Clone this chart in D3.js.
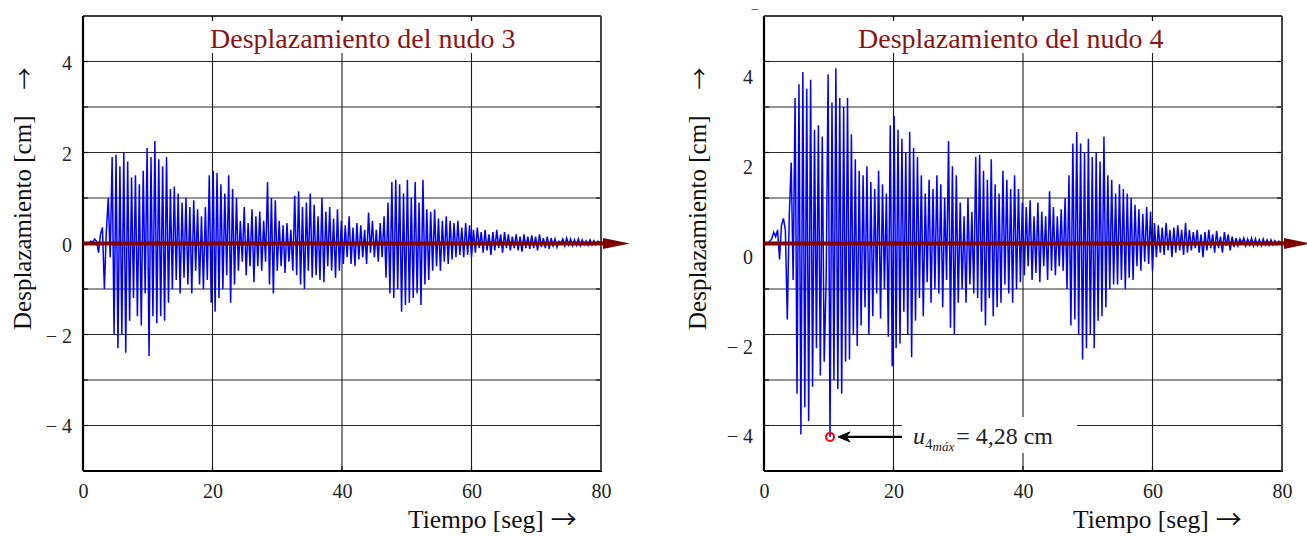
<!DOCTYPE html>
<html><head><meta charset="utf-8">
<script src="https://cdn.jsdelivr.net/npm/d3@7"></script>
<style>
body{margin:0;background:#fff;}
svg{display:block;font-family:"Liberation Serif","Times New Roman",serif;}
</style></head><body>
<svg id="c" width="1307" height="536"></svg>
<script>
// sampling step of the digitised records [s]
const dt = 0.3;
// displacement of node 3 [cm]
const nudo3 = [
 0, 0, 0.02, 0, 0.05, 0.03, 0.1, 0.05, -0.2, 0.2,
 0.35, -1.0, 0.25, 1.0, -0.3, 1.9, -2.0, 1.95, -2.3, 1.7,
 -2.0, 2.0, -2.4, 1.8, -1.7, 1.45, -1.2, 1.5, -1.6, 1.3,
 -1.8, 1.6, -1.1, 2.1, -2.47, 1.9, -1.6, 2.25, -1.75, 1.85,
 -1.6, 1.7, -1.7, 1.9, -1.3, 1.2, -1.0, 1.25, -0.8, 1.1,
 -1.1, 0.9, -0.75, 1.0, -0.9, 0.8, -1.1, 0.95, -0.6, 0.75,
 -0.9, 0.6, -1.0, 0.8, -0.8, 1.5, -1.3, 1.6, -1.5, 1.55,
 -1.2, 1.3, -1.0, 1.1, -0.7, 1.5, -1.3, 1.2, -0.9, 1.0,
 -0.6, 0.5, -0.4, 0.8, -0.7, 0.45, -0.5, 0.75, -0.85, 0.6,
 -0.5, 0.7, -0.6, 0.5, -0.4, 1.35, -0.9, 1.0, -1.1, 0.95,
 -0.6, 0.5, -0.5, 0.4, -0.65, 0.45, -0.4, 0.3, -0.6, 1.05,
 -0.7, 1.15, -0.9, 0.8, -1.0, 0.9, -0.6, 1.1, -0.75, 0.85,
 -0.7, 0.6, -0.8, 1.0, -0.85, 0.7, -0.5, 0.8, -0.6, 0.55,
 -0.75, 0.75, -0.6, 0.5, -0.45, 0.4, -0.3, 0.6, -0.45, 0.35,
 -0.5, 0.45, -0.35, 0.4, -0.3, 0.3, -0.45, 0.68, -0.2, 0.5,
 -0.3, 0.3, -0.4, 0.45, -0.3, 0.6, -0.75, 0.9, -1.1, 1.35,
 -1.2, 1.4, -1.0, 1.3, -1.5, 1.1, -1.35, 1.4, -1.3, 1.0,
 -1.2, 1.35, -1.1, 0.9, -1.35, 1.4, -0.9, 0.75, -0.8, 0.7,
 -0.6, 0.75, -0.5, 0.55, -0.6, 0.5, -0.4, 0.6, -0.45, 0.5,
 -0.35, 0.45, -0.3, 0.5, -0.25, 0.35, -0.3, 0.45, -0.25, 0.4,
 -0.3, 0.3, -0.2, 0.35, -0.1, 0.25, -0.2, 0.3, -0.15, 0.2,
 -0.25, 0.25, -0.15, 0.3, -0.1, 0.2, -0.2, 0.25, -0.1, 0.2,
 -0.15, 0.15, -0.1, 0.2, -0.15, 0.15, -0.18, 0.2, -0.1, 0.15,
 -0.12, 0.18, -0.1, 0.15, -0.15, 0.2, -0.08, 0.12, -0.1, 0.15,
 -0.12, 0.12, -0.05, 0.1, -0.08, 0.05, 0.0, 0.1, -0.05, 0.12,
 -0.03, 0.1, -0.05, 0.08, -0.04, 0.1, -0.05, 0.08, -0.03, 0.06,
 -0.04, 0.08, -0.03, 0.06, -0.02, 0.05, 0.03
];
// displacement of node 4 [cm]
const nudo4 = [
 0, 0.02, 0, 0.05, 0.1, 0.25, 0.15, 0.3, -0.35, 0.4,
 0.55, 0.3, -1.67, 0.6, 1.78, -0.8, 3.2, -3.3, 3.5, -4.2,
 3.77, -3.6, 3.4, -3.9, 3.6, -3.15, 2.5, -2.3, 2.6, -2.9,
 2.35, -2.6, -0.8, 3.72, -4.25, 3.1, -3.0, 3.85, -3.2, 3.2,
 -3.3, 3.0, -2.6, 3.2, -2.55, 2.4, -2.0, 1.85, -2.25, 1.6,
 -1.8, 1.5, -1.4, 1.7, -2.0, 1.35, -1.6, 1.2, -1.1, 1.6,
 -1.65, 1.3, -1.0, 1.1, -2.05, 2.6, -2.7, 2.8, -2.3, 2.5,
 -2.2, 2.3, -1.5, 2.0, -2.0, 2.45, -2.5, 2.1, -1.7, 1.9,
 -1.2, 1.5, -1.6, 1.1, -0.85, 1.4, -1.3, 1.2, -1.0, 1.5,
 -1.1, 1.3, -1.4, 1.0, -0.8, 2.25, -1.85, 1.7, -2.0, 1.5,
 -1.3, 0.9, -1.0, 0.6, -1.3, 1.0, -0.9, 0.7, -1.1, 1.9,
 -1.2, 1.95, -1.5, 1.6, -1.8, 1.4, -1.2, 1.85, -1.6, 1.3,
 -1.4, 1.1, -1.3, 1.6, -0.9, 1.4, -1.1, 1.2, -1.3, 1.5,
 -1.0, 1.2, -0.85, 0.9, -0.7, 0.8, -0.5, 0.95, -0.8, 0.6,
 -0.65, 0.9, -0.85, 0.7, -0.5, 0.6, -0.8, 1.15, -0.6, 0.8,
 -0.7, 0.6, -0.5, 0.75, -0.6, 1.0, -1.0, 1.5, -1.8, 2.2,
 -1.67, 2.45, -2.0, 2.2, -2.55, 2.0, -2.3, 2.3, -2.0, 1.9,
 -2.3, 2.0, -1.7, 1.8, -1.6, 2.35, -1.4, 1.5, -1.0, 1.4,
 -0.9, 1.1, -0.9, 1.3, -0.8, 1.2, -1.0, 1.1, -0.75, 1.0,
 -0.8, 0.85, -0.5, 0.75, -0.6, 0.65, -0.4, 0.8, -0.45, 0.7,
 -0.6, 0.45, -0.3, 0.4, -0.2, 0.35, -0.25, 0.45, -0.15, 0.3,
 -0.3, 0.35, -0.2, 0.4, -0.15, 0.3, -0.25, 0.45, -0.2, 0.3,
 -0.15, 0.25, -0.1, 0.3, -0.2, 0.2, -0.3, 0.25, -0.15, 0.3,
 -0.1, 0.2, -0.2, 0.28, -0.1, 0.15, -0.2, 0.25, -0.05, 0.2,
 -0.15, 0.15, -0.08, 0.12, -0.05, 0.1, 0.0, 0.12, -0.05, 0.1,
 -0.03, 0.12, -0.05, 0.1, -0.04, 0.08, -0.05, 0.1, -0.03, 0.08,
 -0.04, 0.08, -0.03, 0.06, -0.02, 0.05, 0.03
];
const xTicks = [0, 20, 40, 60, 80];
const xGrid = [20, 40, 60];
const yTicks = [-4, -2, 0, 2, 4];
const yTickLabels = ["\u2212 4", "\u2212 2", "0", "2", "4"];
const yGrid = [-4, -3, -2, -1, 0, 1, 2, 3, 4];
const titles = ["Desplazamiento del nudo 3", "Desplazamiento del nudo 4"];
const yTitle = "Desplazamiento [cm]";
const xTitle = "Tiempo [seg]";
const arrowGlyph = "\u2192";
const maxLabel = "= 4,28 cm";

const svg = d3.select("#c");
const TOP = 16, BOT = 471;
const panels = [
  {values: nudo3, title: titles[0], left: 83, right: 601, titleX: 210, ylabX: 31, xlabStart: 408, shiftLabels: false, note: false},
  {values: nudo4, title: titles[1], left: 764, right: 1282, titleX: 858, ylabX: 706, xlabStart: 1073, shiftLabels: true, note: true}
];

panels.forEach(p => {
  const x = d3.scaleLinear().domain([0, 80]).range([p.left, p.right]);
  const y = d3.scaleLinear().domain([-5, 5]).range([BOT, TOP]);
  const g = svg.append("g");

  // grid
  g.append("g").selectAll("line").data(yGrid).join("line")
    .attr("x1", p.left).attr("x2", p.right)
    .attr("y1", d => y(d)).attr("y2", d => y(d))
    .attr("stroke", "#2a2a2a").attr("stroke-width", 1.1);
  g.append("g").selectAll("line").data(xGrid).join("line")
    .attr("x1", d => x(d)).attr("x2", d => x(d))
    .attr("y1", TOP).attr("y2", BOT)
    .attr("stroke", "#1a1a1a").attr("stroke-width", 1.1);

  // data
  const line = d3.line().x((d, i) => x(i * dt)).y(d => y(d));
  g.append("path").datum(p.values).attr("d", line)
    .attr("fill", "none").attr("stroke", "#0000ff").attr("stroke-width", 1.5);

  // title with white box
  const tt = g.append("text").attr("x", p.titleX).attr("y", 48)
    .attr("font-size", 28).attr("fill", "#8b1414").text(p.title);
  const bb = tt.node().getBBox();
  g.insert("rect", "text").attr("x", bb.x - 10).attr("y", 20)
    .attr("width", bb.width + 20).attr("height", 33).attr("fill", "#fff");

  // inward ticks on all sides
  const tk = g.append("g").attr("stroke", "#111").attr("stroke-width", 1.2);
  tk.selectAll(".tt").data(xGrid).join("line").attr("x1", d => x(d)).attr("x2", d => x(d)).attr("y1", TOP).attr("y2", TOP + 5);
  tk.selectAll(".tb").data(xGrid).join("line").attr("x1", d => x(d)).attr("x2", d => x(d)).attr("y1", BOT).attr("y2", BOT - 5);
  tk.selectAll(".tl").data(yGrid).join("line").attr("x1", p.left).attr("x2", p.left + 5).attr("y1", d => y(d)).attr("y2", d => y(d));
  tk.selectAll(".tr").data(yGrid).join("line").attr("x1", p.right).attr("x2", p.right - 5).attr("y1", d => y(d)).attr("y2", d => y(d));

  // frame
  g.append("line").attr("x1", p.left).attr("x2", p.right).attr("y1", TOP).attr("y2", TOP).attr("stroke", "#000").attr("stroke-width", 1.6);
  g.append("line").attr("x1", p.left).attr("x2", p.right + 1).attr("y1", BOT).attr("y2", BOT).attr("stroke", "#000").attr("stroke-width", 2.2);
  g.append("line").attr("x1", p.left).attr("x2", p.left).attr("y1", TOP).attr("y2", BOT).attr("stroke", "#000").attr("stroke-width", 2.2);
  g.append("line").attr("x1", p.right).attr("x2", p.right).attr("y1", TOP).attr("y2", BOT).attr("stroke", "#444").attr("stroke-width", 2);

  // x axis labels
  const xa = g.append("g").attr("transform", `translate(0,${BOT})`)
    .call(d3.axisBottom(x).tickValues(xTicks).tickSize(0).tickPadding(13).tickFormat(d3.format("d")));
  xa.select(".domain").remove();
  xa.selectAll("text").attr("font-size", 20).attr("fill", "#222")
    .attr("font-family", "Liberation Serif");

  // y axis labels
  const yl = p.shiftLabels
    ? d3.scaleLinear().domain([-4, 4]).range([436.5, 77])
    : d3.scaleLinear().domain([-4, 4]).range([y(-4) + 1, y(4) + 2]);
  const ya = g.append("g").attr("transform", `translate(${p.left},0)`)
    .call(d3.axisLeft(yl).tickValues(yTicks).tickSize(0).tickPadding(11)
      .tickFormat((d, i) => yTickLabels[i]));
  ya.select(".domain").remove();
  ya.selectAll("text").attr("font-size", 20).attr("fill", "#222")
    .attr("font-family", "Liberation Serif").style("white-space", "pre");

  // axis titles
  const yt = g.append("text").attr("transform", `translate(${p.ylabX},330) rotate(-90)`)
    .attr("font-size", 25).attr("fill", "#111");
  yt.append("tspan").text(yTitle);
  yt.append("tspan").attr("dx", 26).attr("font-family", "Noto Sans CJK JP").attr("font-size", 22).attr("dy", 1).text(arrowGlyph);
  const xt = g.append("text").attr("x", p.xlabStart).attr("y", 528)
    .attr("font-size", 25.5).attr("fill", "#111");
  xt.append("tspan").text(xTitle);
  xt.append("tspan").attr("dx", 7).attr("font-family", "Noto Sans CJK JP").attr("font-size", 26).attr("dy", 1).text(arrowGlyph);

  // dark red time arrow along zero
  g.append("line").attr("x1", p.left).attr("x2", p.right + 4).attr("y1", y(0)).attr("y2", y(0))
    .attr("stroke", "#800000").attr("stroke-width", 4);
  g.append("path").attr("d", `M${p.right + 2},${y(0) - 5.5} L${p.right + 29},${y(0)} L${p.right + 2},${y(0) + 5.5} Z`)
    .attr("fill", "#800000");

  if (p.note) {
    const iMin = d3.minIndex(p.values);
    const cx = x(iMin * dt), cy = y(p.values[iMin]);
    g.append("rect").attr("x", 902).attr("y", 417).attr("width", 175).attr("height", 36).attr("fill", "#fff");
    g.append("circle").attr("cx", cx).attr("cy", cy).attr("r", 4)
      .attr("fill", "none").attr("stroke", "#ff0000").attr("stroke-width", 2);
    g.append("line").attr("x1", cx + 14).attr("x2", 902).attr("y1", cy).attr("y2", cy)
      .attr("stroke", "#000").attr("stroke-width", 2.2);
    g.append("path").attr("d", `M${cx + 8},${cy} L${cx + 20},${cy - 5} L${cx + 16},${cy} L${cx + 20},${cy + 5} Z`)
      .attr("fill", "#000").attr("stroke", "#000").attr("stroke-width", 1);
    const ann = g.append("text").attr("x", 913).attr("y", cy + 7).attr("font-size", 24).attr("fill", "#222");
    ann.append("tspan").attr("font-style", "italic").text("u");
    ann.append("tspan").attr("font-size", 15).attr("dy", 5).text("4");
    ann.append("tspan").attr("font-size", 13).attr("font-style", "italic").attr("dy", 2).text("m\u00e1x");
    ann.append("tspan").attr("dy", -7).attr("dx", 2).text(maxLabel);
    // stray dash above the frame
    g.append("text").attr("x", 751).attr("y", 14).attr("font-size", 14).attr("fill", "#222").text("\u2212");
  }
});
</script></body></html>
